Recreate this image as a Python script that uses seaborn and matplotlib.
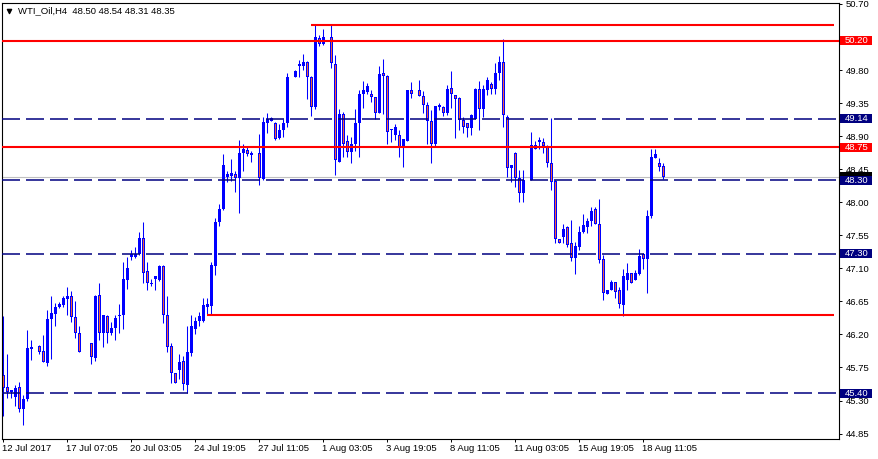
import numpy as np
import pandas as pd
import matplotlib
matplotlib.use("Agg")
import matplotlib.pyplot as plt
import matplotlib.transforms as mtransforms
from matplotlib.patches import Rectangle
import seaborn as sns

nan = np.nan

# ------------------------------------------------------------
# datos H4, nan = barra no visible
# ------------------------------------------------------------
opens = [
    45.65, 45.48, 45.42, 45.35, 45.48, 45.18, 45.32, 46.00, nan, 46.04,
    45.97, 45.81, 46.41, 46.48, 46.57, 46.60, 46.68, 46.73, 46.44, 46.22,
    nan, nan, 46.08, 45.88, 46.74, 46.22, 46.45, 46.22, 46.29, 46.45,
    46.46, 46.94, 47.26, 47.25, 47.29, 47.52, 47.06, 46.89, 46.95, 46.94,
    47.13, 46.47, 46.04, 45.67, 45.72, 45.84, 45.51, 45.95, 46.27, 46.38,
    46.38, 46.58, 46.59, 47.13, 47.73, 47.91, 48.35, 48.36, 48.39, 48.33,
    48.67, 48.71, 48.65, nan, 48.67, 48.32, 49.08, 49.11, 49.08, 48.87,
    48.98, 49.08, nan, 49.71, 49.85, 49.86, 49.91, 49.71, 49.30, 50.23,
    50.15, nan, 50.25, 49.88, 48.55, 49.20, 48.84, 48.69, 48.80, 49.08,
    49.47, 49.50, 49.48, 49.43, 49.21, 49.76, 49.72, 48.98, 48.92, 48.92,
    48.74, 48.84, 49.53, nan, 49.53, 49.45, 49.33, 49.11, 48.79, 49.30,
    49.30, 49.21, 49.55, 49.46, 49.42, 49.12, 49.08, 49.01, 49.14, 49.54,
    49.27, 49.53, 49.61, 49.54, 49.76, 49.91, 49.16, 48.47, 48.67, 48.33,
    48.12, nan, 48.30, 48.78, 48.82, 48.82, 48.77, 48.53, 48.29, 47.50,
    47.53, 47.66, 47.44, 47.24, 47.39, 47.59, 47.66, 47.75, 47.91, 47.71,
    47.23, 46.75, 46.81, 46.91, 46.81, 46.60, 46.94, 47.03, 46.94, 47.02,
    47.29, 47.23, 47.81, 48.60, 48.54, 48.50,
]
highs = [
    46.45, 45.93, 45.45, 45.51, 45.55, 45.38, 46.26, 46.12, nan, 46.06,
    46.19, 46.53, 46.73, 46.63, 46.64, 46.72, 46.85, 46.79, 46.65, 46.31,
    nan, nan, 46.08, 46.74, 46.90, 46.46, 46.47, 46.37, 46.46, 46.62,
    47.18, 47.26, 47.35, 47.39, 47.59, 47.73, 47.18, 46.96, 47.00, 47.15,
    47.15, 46.73, 46.09, 45.67, 45.94, 45.90, 46.32, 46.46, 46.44, 46.51,
    46.69, 46.69, 47.18, 47.79, 47.98, 48.66, 48.42, 48.59, 48.42, 48.85,
    48.80, 48.77, 48.70, nan, 48.93, 49.16, 49.22, 49.16, 49.09, 49.07,
    49.14, 49.76, nan, 49.80, 49.94, 50.02, 49.92, 49.72, 50.41, 50.28,
    50.36, nan, 50.41, 50.00, 49.27, 49.23, 48.92, 48.89, 49.27, 49.53,
    49.65, 49.62, 49.53, 49.44, 49.85, 49.95, 49.73, 49.00, 49.07, 48.98,
    48.86, 49.53, 49.64, nan, 49.66, 49.51, 49.36, 49.26, 49.31, 49.35,
    49.31, 49.60, 49.79, 49.46, 49.44, 49.16, 49.08, 49.20, 49.55, 49.65,
    49.60, 49.71, 49.64, 49.89, 49.99, 50.22, 49.19, 48.51, 48.69, 48.44,
    48.44, nan, 48.96, 48.84, 48.89, 48.87, 48.78, 49.15, 48.30, 47.50,
    47.70, 47.67, 47.76, 47.46, 47.67, 47.84, 47.79, 47.94, 47.94, 48.05,
    47.28, 46.81, 46.94, 46.92, 46.85, 47.09, 47.17, 47.03, 47.08, 47.37,
    47.31, 47.90, 48.73, 48.73, 48.60, 48.54,
]
lows = [
    45.09, 45.33, 45.33, 45.22, 45.15, 44.97, 45.30, 45.85, nan, 45.93,
    45.82, 45.77, 45.87, 46.32, 46.56, 46.58, 46.47, 46.37, 46.15, 45.96,
    nan, nan, 45.80, 45.84, 46.12, 46.03, 46.08, 46.19, 46.12, 46.22,
    46.27, 46.82, 47.21, 47.24, 47.28, 46.90, 46.80, 46.86, 46.81, 46.93,
    46.35, 45.96, 45.54, 45.54, 45.59, 45.45, 45.40, 45.91, 46.20, 46.31,
    46.37, 46.46, 46.46, 47.01, 47.67, 47.89, 48.27, 48.29, 48.14, 47.86,
    48.43, 48.63, 48.55, nan, 48.24, 48.30, 48.94, 49.11, 48.85, 48.86,
    48.89, 49.03, nan, 49.70, 49.70, 49.80, 49.41, 49.18, 49.27, 50.13,
    50.14, nan, 49.83, 48.37, 48.55, 48.62, 48.61, 48.54, 48.70, 48.61,
    49.29, 49.47, 49.37, 49.13, 49.21, 49.20, 48.80, 48.82, 48.85, 48.61,
    48.48, 48.84, 49.42, nan, 49.45, 49.21, 48.79, 48.54, 48.76, 49.25,
    49.18, 49.19, 49.28, 48.88, 48.98, 48.94, 48.89, 48.92, 49.13, 48.98,
    49.16, 49.46, 49.47, 49.48, 49.66, 49.03, 48.35, 48.28, 48.21, 48.01,
    48.01, nan, 48.30, 48.72, 48.72, 48.67, 48.48, 48.17, 47.44, 47.44,
    47.45, 47.39, 47.20, 47.02, 47.35, 47.58, 47.58, 47.67, 47.70, 47.17,
    46.67, 46.75, 46.80, 46.70, 46.56, 46.45, 46.81, 46.90, 46.94, 47.01,
    47.09, 46.76, 47.79, 48.60, 48.43, 48.31,
]
closes = [
    45.47, 45.42, 45.44, 45.47, 45.18, 45.32, 46.02, 46.03, nan, 45.96,
    45.82, 46.41, 46.49, 46.57, 46.61, 46.69, 46.73, 46.44, 46.22, 45.96,
    nan, nan, 45.89, 46.72, 46.22, 46.46, 46.22, 46.29, 46.43, 46.46,
    46.95, 47.10, 47.29, 47.30, 47.52, 47.04, 46.90, 46.89, 46.99, 47.13,
    46.47, 46.03, 45.67, 45.54, 45.82, 45.52, 45.96, 46.31, 46.38, 46.45,
    46.60, 46.61, 47.15, 47.73, 47.91, 48.51, 48.39, 48.40, 48.33, 48.67,
    48.72, 48.66, 48.67, nan, 48.33, 49.09, 49.13, 49.15, 48.86, 48.98,
    49.08, 49.70, nan, 49.79, 49.88, 49.91, 49.70, 49.30, 50.25, 50.15,
    50.25, nan, 49.89, 48.57, 49.20, 48.80, 48.69, 48.80, 49.08, 49.47,
    49.53, 49.58, 49.44, 49.21, 49.75, 49.72, 48.95, 48.98, 49.03, 48.74,
    48.86, 49.53, 49.47, nan, 49.45, 49.32, 49.11, 48.79, 49.31, 49.32,
    49.21, 49.54, 49.48, 49.40, 49.12, 49.03, 49.01, 49.19, 49.54, 49.27,
    49.54, 49.67, 49.54, 49.76, 49.91, 49.19, 48.46, 48.51, 48.33, 48.12,
    48.30, nan, 48.78, 48.73, 48.85, 48.76, 48.54, 48.28, 47.50, 47.44,
    47.64, 47.42, 47.24, 47.40, 47.60, 47.69, 47.75, 47.88, 47.71, 47.21,
    46.76, 46.81, 46.92, 46.78, 46.62, 46.99, 47.03, 46.90, 47.04, 47.27,
    47.23, 47.81, 48.61, 48.66, 48.48, 48.35,
]

# etiquetas del eje temporal (una cada 16 barras)
date_labels = ["12 Jul 2017", "17 Jul 07:05", "20 Jul 03:05", "24 Jul 19:05",
               "27 Jul 11:05", "1 Aug 03:05", "3 Aug 19:05", "8 Aug 11:05",
               "11 Aug 03:05", "15 Aug 19:05", "18 Aug 11:05"]
label_step = 16

# niveles dibujados
red_levels = [50.20, 48.75]            # lineas rojas completas
red_partial_levels = [50.41, 46.46]    # lineas rojas que empiezan en una barra
red_partial_start = [77, 51]
blue_levels = [49.14, 48.30, 47.30, 45.40]
bid_price = 48.35
price_ticks = [44.85, 45.30, 45.75, 46.20, 46.65, 47.10, 47.55, 48.00,
               48.45, 48.90, 49.35, 49.80, 50.70]
header = "WTI_Oil,H4  48.50 48.54 48.31 48.35"

BLUE = "#0000ff"
BEAR = "#f2603a"
RED = "#ff0000"
NAVY = "#000080"

df = pd.DataFrame({"open": opens, "high": highs, "low": lows, "close": closes})
df["bar"] = np.arange(len(df))
df = df.dropna()
bull = df["close"] >= df["open"]

sns.set_style("white")
plt.rcParams["font.family"] = ["Liberation Sans", "DejaVu Sans"]

W, H = 879, 459
fig = plt.figure(figsize=(W / 100, H / 100), dpi=100)
left, right, top, bottom = 2, 839, 2.5, 438.5
ax = fig.add_axes([left / W, 1 - bottom / H, (right - left) / W, (bottom - top) / H])

ymin, ymax = 44.783, 50.72
px = (ymax - ymin) / (bottom - top)   # precio por pixel

# velas: mecha + cuerpo azul de 3 px; las bajistas con relleno naranja
ax.vlines(df["bar"], df["low"], df["high"], color=BLUE, lw=0.75, zorder=2)
body_lo = df[["open", "close"]].min(axis=1)
body_h = (df["close"] - df["open"]).abs()
ax.bar(df["bar"], np.maximum(body_h, px), bottom=body_lo, width=0.75,
       color=BLUE, linewidth=0, zorder=2)
bear = df[~bull & (body_h > 2.2 * px)]
ax.bar(bear["bar"], (bear["open"] - bear["close"]) - 2 * px,
       bottom=bear["close"] + px, width=0.28, color=BEAR, linewidth=0, zorder=2.5)

n_slots = 209
ax.set_xlim(-0.33, n_slots - 0.1)
ax.set_ylim(ymin, ymax)

# lineas horizontales
ax.axhline(bid_price, color="#c0c0c0", lw=0.8, zorder=1)
for lv in red_levels:
    ax.axhline(lv, color=RED, lw=1.5, zorder=3)
for lv, st in zip(red_partial_levels, red_partial_start):
    ax.hlines(lv, st, n_slots - 1.3, color=RED, lw=1.5, zorder=3)
lw_d = 1.1
for lv in blue_levels:
    ax.axhline(lv, color=NAVY, lw=lw_d, dashes=(12.96 / lw_d, 4.32 / lw_d), zorder=3)

# eje de precios a la derecha
ax.yaxis.tick_right()
ax.set_yticks(price_ticks)
ax.set_yticklabels([f"{v:.2f}" for v in price_ticks])
ax.tick_params(axis="y", direction="out", length=2.5, width=0.7, pad=2.5,
               labelsize=6.8, colors="black", right=True, left=False)

ax.set_xticks(np.arange(len(date_labels)) * label_step)
ax.set_xticklabels(date_labels)
ax.tick_params(axis="x", direction="out", length=2.5, width=0.7, pad=1.5,
               labelsize=6.8, colors="black", bottom=True)
offset = mtransforms.ScaledTranslation(-1 / 100, 0, fig.dpi_scale_trans)
for lab in ax.get_xticklabels():
    lab.set_horizontalalignment("left")
    lab.set_transform(lab.get_transform() + offset)

for sp in ax.spines.values():
    sp.set_color("black")
    sp.set_linewidth(0.8)
ax.grid(False)

# etiquetas de precio con caja en el eje
trans = mtransforms.blended_transform_factory(ax.transAxes, ax.transData)
box_w = 32 / (right - left)
boxes = [(bid_price, "black")] + [(lv, RED) for lv in red_levels] + \
        [(lv, NAVY) for lv in blue_levels]
for lv, col in boxes:
    ax.add_patch(Rectangle((1.0012, lv - 4.5 * px), box_w, 9 * px,
                           transform=trans, facecolor=col, edgecolor="none",
                           clip_on=False, zorder=5))
    if col != "black":
        ax.text(1.0012 + 4.5 / (right - left), lv, f"{lv:.2f}", transform=trans,
                color="white", fontsize=6.8, va="center", ha="left",
                clip_on=False, zorder=6)

# cabecera
ax.scatter([(9.5 - left) / (right - left)], [(bottom - 10.5) / (bottom - top)],
           marker="v", s=9, color="black", transform=ax.transAxes, clip_on=False, zorder=6)
ax.text((18 - left) / (right - left), (bottom - 11) / (bottom - top), header,
        transform=ax.transAxes, fontsize=6.8, va="center", ha="left", color="black")

fig.savefig("out.png", dpi=100)
plt.close(fig)
